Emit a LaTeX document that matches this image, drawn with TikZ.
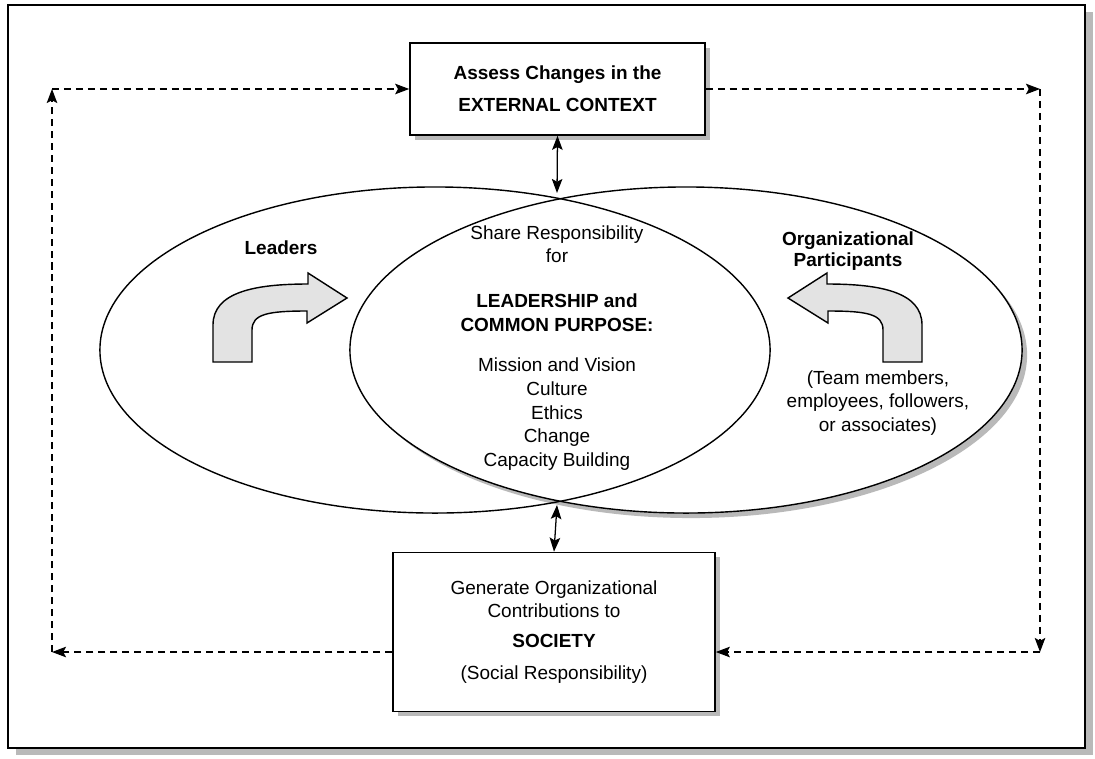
\documentclass[tikz,border=0pt]{standalone}
\usepackage{fontspec}
\setmainfont{Liberation Sans}
\usetikzlibrary{arrows.meta,shadows}

\begin{document}
\begin{tikzpicture}[x=0.025cm, y=-0.025cm,
		every node/.style={font=\fontsize{13.5}{17}\selectfont, align=center},
		box/.style={draw, line width=1.1pt, fill=white, drop shadow={shadow xshift=3.5pt, shadow yshift=-3.5pt, fill=gray!55, opacity=1}},
		dashline/.style={dash pattern=on 5pt off 3.5pt, line width=0.8pt, -{Stealth[length=10pt, width=7.5pt, inset=2pt]}},
		both/.style={line width=0.9pt, {Stealth[length=10pt, width=7.5pt, inset=2pt]}-{Stealth[length=10pt, width=7.5pt, inset=2pt]}},
		bigarrow/.style={draw, line width=1pt, fill=gray!22}]
		\useasboundingbox (0,0) rectangle (1095,758);

		% frame
		\fill[gray!55] (16,12) rectangle (1093,755);
		\draw[line width=1.1pt, fill=white] (8,5) rectangle (1085,748);

		% the two ellipses
		\fill[white] (435,350) ellipse [x radius=8.375cm, y radius=4.075cm];
		\fill[gray!55] (691,355) ellipse [x radius=8.4cm, y radius=4.075cm];
		\fill[white] (686,350) ellipse [x radius=8.4cm, y radius=4.075cm];
		\draw[line width=1pt] (435,350) ellipse [x radius=8.375cm, y radius=4.075cm];
		\draw[line width=1pt] (686,350) ellipse [x radius=8.4cm, y radius=4.075cm];

		\node (context) [box, minimum width=7.375cm, minimum height=2.3cm] at (557.5,89) {\textbf{Assess Changes in the}\\[5.5pt] \textbf{EXTERNAL CONTEXT}};
		\node (society) [box, minimum width=8.05cm, minimum height=3.975cm] at (554,632) {Generate Organizational\\ Contributions to\\[4pt] \textbf{SOCIETY}\\[6pt] (Social Responsibility)};
		\node (purpose) at (557,348) {Share Responsibility\\ for\\[15pt] \textbf{LEADERSHIP and}\\ \textbf{COMMON PURPOSE:}\\[11pt] Mission and Vision\\ Culture\\ Ethics\\ Change\\ Capacity Building};
		\node (leaders) at (281,248) {\textbf{Leaders}};
		\node (participants) at (848,251) {\textbf{Organizational}\\[-1.5pt] \textbf{Participants}};
		\node (members) at (878,403) {(Team members,\\ employees, followers,\\ or associates)};

		% bent arrows
		\draw[bigarrow] (213,362) -- (252,362) -- (252,330) .. controls (252,314) and (268,311) .. (307,311) -- (307,323) -- (347,298) -- (308,273) -- (308,284) .. controls (255,284) and (213,292) .. (213,325) -- cycle;
		\draw[bigarrow] (922,362) -- (883,362) -- (883,330) .. controls (883,314) and (867,311) .. (828,311) -- (828,323) -- (788,298) -- (827,273) -- (827,284) .. controls (880,284) and (922,292) .. (922,325) -- cycle;

		\coordinate (xtop) at (557,193);
		\coordinate (xbot) at (557,505);
		\draw[both] (context.south) -- (xtop);
		\draw[both] (xbot) -- (society.north);

		\coordinate (tl) at (52,89);
		\coordinate (tr) at (1040,89);
		\coordinate (br) at (1040,652);
		\coordinate (bl) at (52,652);
		\draw[dashline] (tl) -- (context.west);
		\draw[dashline] (context.east) -- (tr);
		\draw[dashline] (tr) -- (br);
		\draw[dashline] (br) -- (br -| society.east);
		\draw[dashline] (bl -| society.west) -- (bl);
		\draw[dashline] (bl) -- (tl);
	\end{tikzpicture}
\end{document}
